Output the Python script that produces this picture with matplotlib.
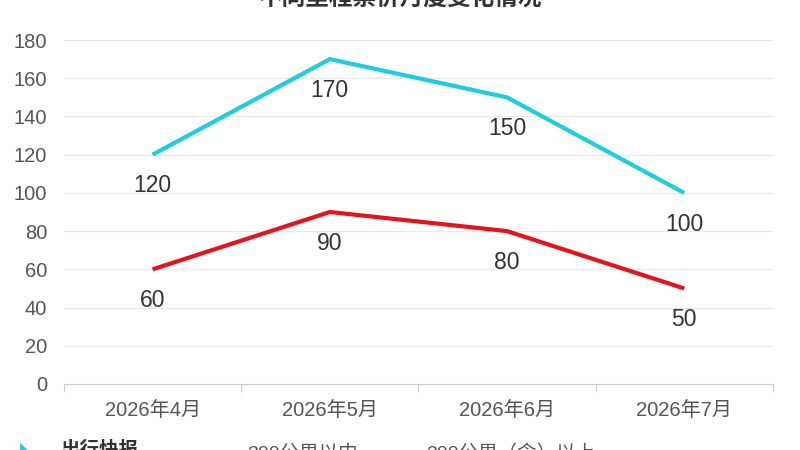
import matplotlib
matplotlib.use("Agg")
import matplotlib.pyplot as plt
import numpy as np

plt.rcParams['font.family'] = ['Liberation Sans', 'Noto Sans CJK SC', 'DejaVu Sans']

months = ["2026年4月", "2026年5月", "2026年6月", "2026年7月"]
long_trip = [120, 170, 150, 100]   # 300公里（含）以上
short_trip = [60, 90, 80, 50]      # 300公里以内
yticks = [0, 20, 40, 60, 80, 100, 120, 140, 160, 180]

title = "不同里程票价月度变化情况"
legend_labels = ["300公里以内", "300公里（含）以上"]
source = "出行快报"

cyan = "#1dcde0"
red = "#e5131b"

fig = plt.figure(figsize=(8, 4.5), dpi=100)
ax = fig.add_axes([0.08, 0.1467, 0.886, 0.7644])

x = np.arange(len(months))
l_short, = ax.plot(x, short_trip, color=red, lw=3, solid_capstyle="butt")
l_long, = ax.plot(x, long_trip, color=cyan, lw=3, solid_capstyle="butt")

# value labels under each point
for series in (long_trip, short_trip):
    for xi, v in zip(x, series):
        ax.annotate(str(v), (xi, v), xytext=(0, -22.5), textcoords="offset points",
                    ha="center", va="center", fontsize=16.5, color="#333333")

ax.set_xlim(-0.5, len(months) - 0.5)
ax.set_ylim(0, 180)
ax.set_yticks(yticks)
ax.set_xticks(x)
ax.set_xticklabels(months)
ax.set_xticks(np.arange(-0.5, len(months)), minor=True)
ax.tick_params(axis="x", which="major", length=0, pad=12, labelsize=14.5, labelcolor="#555555")
ax.tick_params(axis="x", which="minor", length=6, color="#cccccc", width=0.8)
ax.tick_params(axis="y", length=0, pad=12, labelsize=14.5, labelcolor="#555555")

ax.grid(axis="y", color="#e8e8e8", lw=0.8)
ax.set_axisbelow(True)
for side in ("left", "right", "top"):
    ax.spines[side].set_visible(False)
ax.spines["bottom"].set_color("#cccccc")
ax.spines["bottom"].set_linewidth(0.8)

# title, mostly above the frame
fig.text(0.5, 1 - 10 / 450, title, ha="center", va="bottom", fontsize=17,
         fontweight="bold", color="#333333")

# source text and legend, mostly below the frame
fig.text(0.025, 1 - 440 / 450, "◣", ha="left", va="top", fontsize=14, color=cyan,
         family=['DejaVu Sans'])
fig.text(0.075, 1 - 441 / 450, source, ha="left", va="top", fontsize=14,
         fontweight="bold", color="#333333")
fig.legend([l_short, l_long], legend_labels, loc="upper left",
           bbox_to_anchor=(0.227, 1 - 437 / 450), ncol=2, frameon=False,
           fontsize=14, handlelength=2.2, columnspacing=0.5, borderaxespad=0,
           labelcolor="#555555")

fig.savefig("out.png", dpi=100)
